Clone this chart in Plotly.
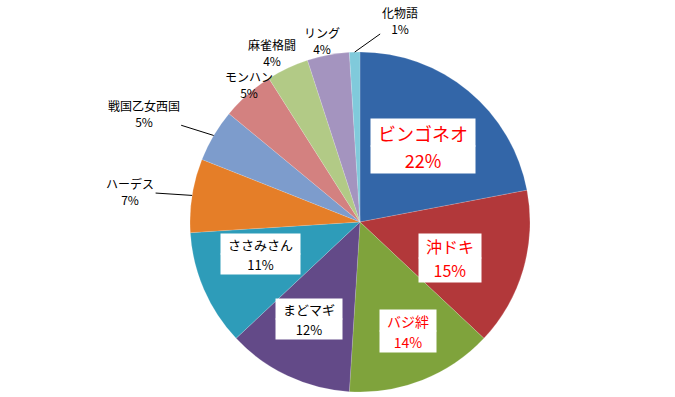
import math
import plotly.graph_objects as go

labels = ["ビンゴネオ", "沖ドキ", "バジ絆", "まどマギ", "ささみさん", "ハーデス",
          "戦国乙女西国", "モンハン", "麻雀格闘", "リング", "化物語"]
values = [22, 15, 14, 12, 11, 7, 5, 5, 4, 4, 1]
colors = ["#3366A8", "#B2383A", "#7FA33C", "#634A88", "#2E9CB9", "#E57E28",
          "#7D9CCC", "#D38180", "#B2CA86", "#A494BF", "#80CADB"]
inside_font_colors = ["#FF0000", "#FF0000", "#FF0000", "#000000", "#000000"]
inside_font_sizes = [18, 16, 14, 13, 13]
inside_radius = [0.58, 0.75, 0.76, 0.70, 0.64]
# label placement style for the small slices: (radius factor, leader offset dx, dy)
outside_style = {
    "ハーデス": (1.0, -62, -4),
    "戦国乙女西国": (1.0, -70, -22),
    "モンハン": (1.22, 0, 0),
    "麻雀格闘": (1.22, 0, 0),
    "リング": (1.2, 0, 0),
    "化物語": (1.0, 45, -32),
}

W, H = 675, 397
dom_x = [0.28148, 0.78519]
dom_y = [0.012594, 0.869]

fig = go.Figure(go.Pie(
    labels=labels, values=values, sort=False, direction="clockwise", rotation=0,
    marker=dict(colors=colors, line=dict(color="rgba(255,255,255,0.3)", width=0.5)),
    textinfo="none",
    domain=dict(x=dom_x, y=dom_y), showlegend=False, hoverinfo="label+percent",
))

bw = W * (dom_x[1] - dom_x[0])
bh = H * (dom_y[1] - dom_y[0])
r = min(bw, bh) / 2
cx = W * (dom_x[0] + dom_x[1]) / 2
cy = H * (1 - dom_y[0]) - bh / 2
total = sum(values)
n_in = len(inside_font_colors)
cum = 0
annots = []
for i, v in enumerate(values):
    mid = (cum + v / 2) / total * 2 * math.pi
    cum += v
    pct = f"{round(v / total * 100)}%"
    if i < n_in:
        f = inside_radius[i]
        px = cx + r * f * math.sin(mid)
        py = cy - r * f * math.cos(mid)
        fs = inside_font_sizes[i]
        bw_i = len(labels[i]) * fs + 14
        bh_i = round(fs * 1.5)
        font = dict(family="Noto Sans CJK JP", size=fs, color=inside_font_colors[i])
        for txt, shift in ((labels[i], bh_i / 2), (pct, -bh_i / 2)):
            annots.append(dict(
                x=px / W, y=1 - py / H, xref="paper", yref="paper", showarrow=False,
                text=txt, bgcolor="#FFFFFF", font=font, borderpad=0,
                width=bw_i, height=bh_i, yshift=shift, align="center", valign="middle",
            ))
    else:
        f, dx, dy = outside_style[labels[i]]
        px = cx + r * f * math.sin(mid)
        py = cy - r * f * math.cos(mid)
        a = dict(
            x=px / W, y=1 - py / H, xref="paper", yref="paper",
            text=f"{labels[i]}<br>{pct}", align="center",
            font=dict(family="Noto Sans CJK JP", size=12, color="#000000"),
        )
        if dx or dy:
            a.update(showarrow=True, arrowhead=0, arrowwidth=1, arrowcolor="#000000",
                     ax=dx, ay=dy, standoff=0)
        else:
            a.update(showarrow=False)
        annots.append(a)

fig.update_layout(
    width=W, height=H, margin=dict(l=0, r=0, t=0, b=0),
    paper_bgcolor="#FFFFFF", plot_bgcolor="#FFFFFF",
    annotations=annots,
    font=dict(family="Noto Sans CJK JP"),
)
fig.write_html("out.html", config={"displayModeBar": False},
               post_script="document.body.style.margin='0px';")
